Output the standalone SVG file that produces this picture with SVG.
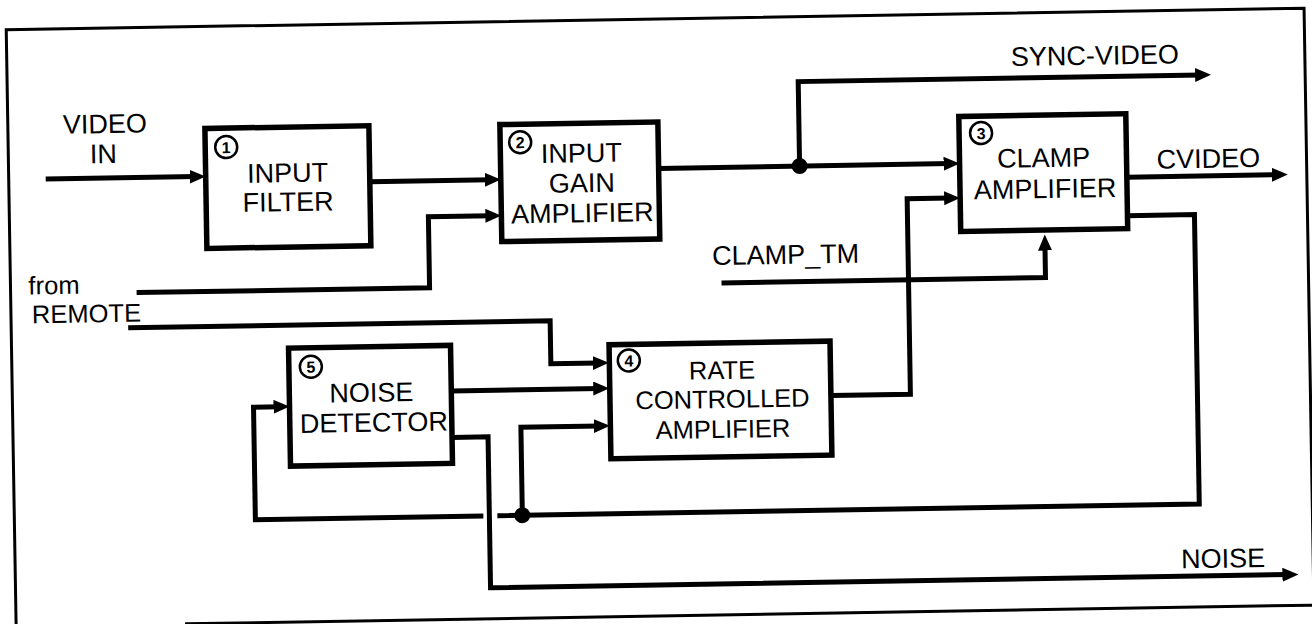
<svg xmlns="http://www.w3.org/2000/svg" width="1312" height="624" viewBox="0 0 1312 624">
<style>
.t{font-family:"Liberation Sans",Arial,sans-serif;font-size:27px;fill:#000}
.s{font-size:25.5px}
.m{text-anchor:middle}
.n{font-family:"Liberation Sans",Arial,sans-serif;font-size:16px;font-weight:bold;text-anchor:middle;fill:#000}
.box{fill:#fff;stroke:#000;stroke-width:5.5}
.num{fill:#fff;stroke:#000;stroke-width:2.5}
.w{fill:none;stroke:#000;stroke-width:5;stroke-linejoin:miter}
.frame{fill:none;stroke:#000;stroke-width:3}
</style>
<defs>
<marker id="ah" markerUnits="userSpaceOnUse" markerWidth="16" markerHeight="14" refX="6" refY="7" orient="auto">
<path d="M0,0 L16,7 L0,14 z" fill="#000"/>
</marker>
</defs>
<rect width="1312" height="624" fill="#fff"/>
<g transform="rotate(-0.95 656 312)">
<path class="frame" d="M11,640 V19 H1309 V640"/>
<path class="frame" d="M180,616 H1340"/>
<g id="connectors">
<path class="w" d="M48,169 H198" marker-end="url(#ah)"/>
<path class="w" d="M372,177 H493" marker-end="url(#ah)"/>
<path class="w" d="M137,284 H430 V213 H493" marker-end="url(#ah)"/>
<path class="w" d="M661,168.5 H952" marker-end="url(#ah)"/>
<path class="w" d="M802,168.5 V84 H1205" marker-end="url(#ah)"/>
<path class="w" d="M1129,185 H1280" marker-end="url(#ah)"/>
<path class="w" d="M722,284 H1046 V251" marker-end="url(#ah)"/>
<path class="w" d="M830,398.5 H909 V203 H952" marker-end="url(#ah)"/>
<path class="w" d="M1129,223.5 H1196 V513 H494"/>
<path class="w" d="M480,513 H252 V400.5 H278" marker-end="url(#ah)"/>
<path class="w" d="M519,513 V425 H598" marker-end="url(#ah)"/>
<path class="w" d="M450,387.5 H598" marker-end="url(#ah)"/>
<path class="w" d="M128,319 H550 V362 H598" marker-end="url(#ah)"/>
<path class="w" d="M450,434 H486 V585 H1284" marker-end="url(#ah)"/>
<circle cx="802" cy="168.5" r="8" fill="#000"/>
<circle cx="519" cy="513" r="8" fill="#000"/>
</g>
<g id="labels">
<text class="t m" x="108" y="124">VIDEO</text>
<text class="t m" x="106" y="154">IN</text>
<text class="t s" x="29" y="284">from</text>
<text class="t s" x="32" y="313">REMOTE</text>
<text class="t" x="1015" y="72">SYNC-VIDEO</text>
<text class="t" x="1159" y="177">CVIDEO</text>
<text class="t" x="713" y="266">CLAMP_TM</text>
<text class="t" x="1177" y="577">NOISE</text>
</g>
<g id="input-filter">
<rect class="box" x="208" y="121" width="164" height="120"/>
<circle class="num" cx="229" cy="140" r="11"/>
<text class="n" x="229" y="146">1</text>
<text class="t m" x="290" y="176">INPUT</text>
<text class="t m" x="290" y="205">FILTER</text>
</g>
<g id="input-gain-amplifier">
<rect class="box" x="503" y="122" width="158" height="117"/>
<circle class="num" cx="523" cy="140" r="11"/>
<text class="n" x="523" y="146">2</text>
<text class="t m" x="584" y="161">INPUT</text>
<text class="t m" x="584" y="191">GAIN</text>
<text class="t m" x="584" y="221">AMPLIFIER</text>
</g>
<g id="clamp-amplifier">
<rect class="box" x="962" y="121.5" width="167" height="115"/>
<circle class="num" cx="984" cy="138.5" r="11"/>
<text class="n" x="984" y="144.5">3</text>
<text class="t m" x="1046" y="173.5">CLAMP</text>
<text class="t m" x="1047" y="204.5">AMPLIFIER</text>
</g>
<g id="rate-controlled-amplifier">
<rect class="box" x="608.5" y="344" width="221" height="114"/>
<circle class="num" cx="628" cy="360" r="11"/>
<text class="n" x="628" y="366">4</text>
<text class="t s m" x="721" y="380">RATE</text>
<text class="t s m" x="721" y="409">CONTROLLED</text>
<text class="t s m" x="721" y="439">AMPLIFIER</text>
</g>
<g id="noise-detector">
<rect class="box" x="288" y="342" width="162" height="118"/>
<circle class="num" cx="310" cy="361" r="11"/>
<text class="n" x="310" y="367">5</text>
<text class="t m" x="370" y="397">NOISE</text>
<text class="t m" x="372" y="427">DETECTOR</text>
</g>
</g>
</svg>
